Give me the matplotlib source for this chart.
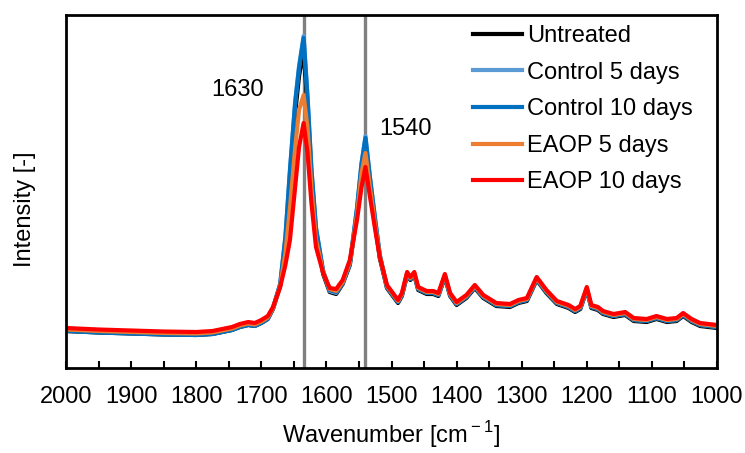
import numpy as np
import matplotlib
matplotlib.use("Agg")
import matplotlib.pyplot as plt
from matplotlib.ticker import MultipleLocator

plt.rcParams['font.family'] = ['Liberation Sans', 'DejaVu Sans']
plt.rcParams['mathtext.fontset'] = 'custom'
plt.rcParams['mathtext.rm'] = 'Liberation Sans'

# wavenumber grid [cm-1]
wavenumber = [2000, 1950, 1900, 1850, 1800, 1775, 1760, 1745, 1733, 1720,
              1710, 1700, 1690, 1682, 1671, 1663, 1656, 1648, 1642, 1635,
              1629, 1623, 1616, 1605, 1595, 1585, 1575, 1564, 1553, 1546,
              1540, 1533, 1525, 1518, 1507, 1490, 1484, 1476, 1471, 1465,
              1459, 1446, 1436, 1428, 1418, 1410, 1400, 1385, 1372, 1359,
              1339, 1318, 1305, 1292, 1277, 1262, 1246, 1228, 1218, 1210,
              1200, 1193, 1183, 1175, 1159, 1141, 1128, 1108, 1093, 1077,
              1062, 1052, 1039, 1026, 1000]

# intensities (arbitrary units)
untreated = [37, 35.5, 34.5, 33.5, 33, 34, 36, 38, 41, 43,
             42, 45, 49, 59, 82, 120, 185, 255, 292, 318,
             262, 192, 136, 94, 76, 74, 84, 103, 155, 198,
             222, 185, 143, 110, 80, 65, 72, 93, 88, 93,
             78, 74, 74, 72, 91, 72, 63, 70, 80, 70,
             62, 61, 65, 67, 88, 75, 64, 60, 56, 59,
             78, 60, 58, 54, 51, 53, 47, 46, 49, 46,
             47, 52, 46, 42, 40]

control_5 = [37.5, 36, 35, 34, 33.5, 34.5, 36.5, 38.5, 41.5, 43.5,
             42.5, 45.5, 49.5, 60, 84, 130, 196, 266, 302, 332,
             272, 199, 140, 96, 77, 75, 85, 104, 159, 204,
             232, 190, 148, 113, 81, 66, 73, 94, 89, 94,
             79, 75, 75, 73, 92, 73, 64, 71, 81, 71,
             63, 62, 66, 68, 89, 76, 65, 61, 57, 60,
             79, 61, 59, 55, 52, 54, 48, 47, 50, 47,
             48, 53, 47, 43, 41]

control_10 = [37, 35.5, 34.5, 33.5, 33, 34, 36, 38, 41, 43,
              42, 45, 49, 60, 84, 131, 198, 265, 300, 330,
              270, 198, 140, 97, 78, 76, 85, 104, 160, 205,
              230, 190, 148, 113, 81, 66, 73, 94, 89, 94,
              79, 75, 75, 73, 92, 73, 64, 71, 81, 71,
              63, 62, 66, 68, 89, 76, 65, 61, 57, 60,
              79, 61, 59, 55, 52, 54, 48, 47, 50, 47,
              48, 53, 47, 43, 41]

eaop_5 = [38.5, 37, 36, 35, 34.5, 35.5, 37.5, 39.5, 42.5, 44.5,
          43.5, 46.5, 50.5, 60, 82, 115, 160, 220, 258, 273,
          240, 180, 128, 96, 79, 77, 86, 106, 153, 195,
          215, 180, 142, 112, 82, 67, 74, 95, 90, 95,
          80, 76, 76, 74, 93, 74, 65, 72, 82, 72,
          64, 63, 67, 69, 90, 77, 66, 62, 58, 61,
          80, 62, 60, 56, 53, 55, 49, 48, 51, 48,
          49, 54, 48, 44, 42]

eaop_10 = [40, 38.5, 37.5, 36.5, 36, 37, 39, 41, 44, 46,
           45, 48, 52, 61, 81, 103, 128, 181, 221, 245,
           215, 165, 121, 95, 80, 79, 88, 108, 148, 181,
           201, 171, 138, 111, 83, 68, 75, 96, 91, 96,
           81, 77, 77, 75, 94, 75, 66, 73, 83, 73,
           65, 64, 68, 70, 91, 78, 67, 63, 59, 62,
           81, 63, 61, 57, 54, 56, 50, 49, 52, 49,
           50, 55, 49, 45, 43]

series = [untreated, control_5, control_10, eaop_5, eaop_10]
labels = ['Untreated', 'Control 5 days', 'Control 10 days', 'EAOP 5 days', 'EAOP 10 days']
colors = ['#000000', '#5B9BD5', '#0070C0', '#ED7D31', '#FF0000']

marker_positions = [1635, 1541]
marker_labels = ['1630', '1540']

FS = 17

fig = plt.figure(figsize=(7.45, 4.53), dpi=100)
ax = fig.add_axes([66 / 745, 85 / 453, 651 / 745, 353 / 453])

for xv in marker_positions:
    ax.axvline(xv, color='#808080', linewidth=2.4, zorder=1)

for y, lab, c in zip(series, labels, colors):
    ax.plot(wavenumber, y, color=c, linewidth=3, label=lab, zorder=2,
            solid_joinstyle='round')

ax.text(1737, 278, marker_labels[0], fontsize=FS, ha='center', va='center')
ax.text(1478, 239, marker_labels[1], fontsize=FS, ha='center', va='center')

ax.set_xlim(2000, 1000)
ax.set_ylim(0, 353)
ax.xaxis.set_major_locator(MultipleLocator(100))
ax.xaxis.set_minor_locator(MultipleLocator(50))
ax.tick_params(axis='x', which='both', direction='in', length=5, width=1.5,
               labelsize=FS, pad=13)
ax.set_yticks([])
for s in ax.spines.values():
    s.set_linewidth(2)

ax.set_xlabel('Wavenumber [cm$^{\\rm -1}$]', fontsize=FS, labelpad=8)
ax.set_ylabel('Intensity [-]', fontsize=FS)
ax.yaxis.set_label_coords(-0.046, 0.45)

ax.legend(loc='upper left', bbox_to_anchor=(0.625, 0.972), frameon=False,
          fontsize=FS, handlelength=2.1, handletextpad=0.2, labelspacing=0.62,
          borderpad=0, borderaxespad=0)

fig.savefig('out.png', dpi=100)
